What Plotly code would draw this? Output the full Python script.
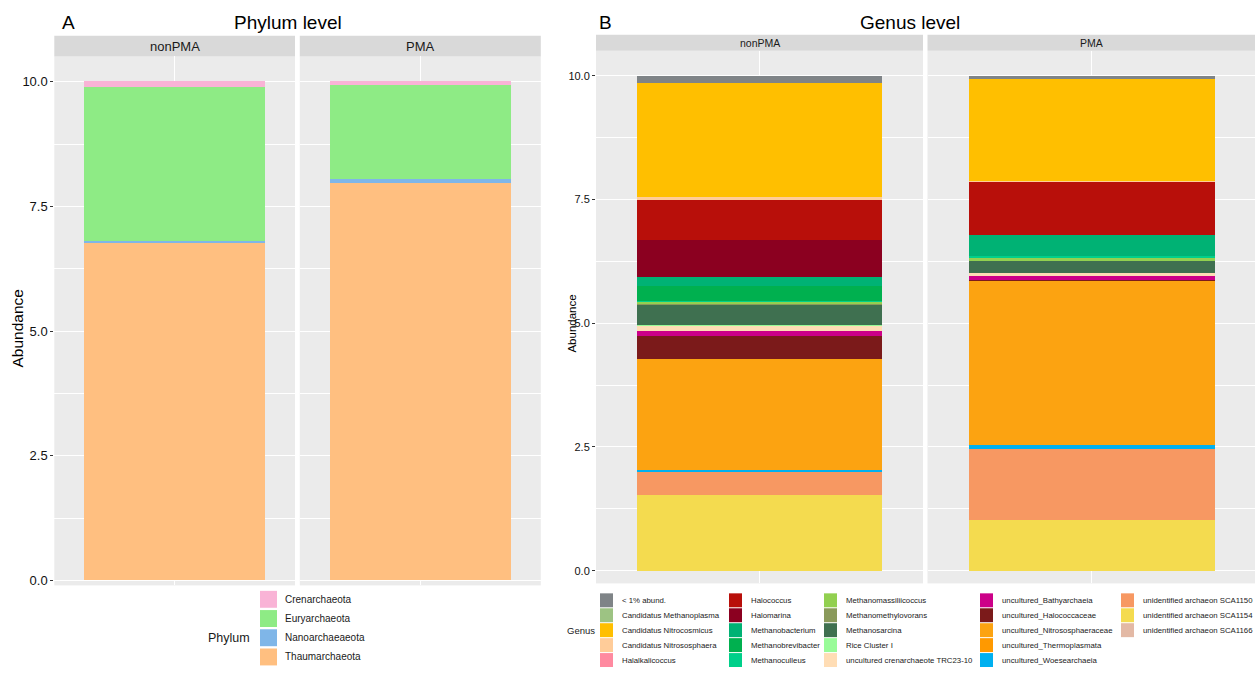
import plotly.graph_objects as go

# ---------------- data ----------------
samples = ["nonPMA", "PMA"]

phyla = ["Crenarchaeota", "Euryarchaeota", "Nanoarchaeaeota", "Thaumarchaeota"]
phylum_nonpma = [0.12, 3.09, 0.04, 6.75]
phylum_pma = [0.08, 1.88, 0.08, 7.96]
phylum_colors = ["#F9B3D6", "#8EEB85", "#7FB6E8", "#FFBF80"]

genera = [
    "< 1% abund.", "Candidatus Methanoplasma", "Candidatus Nitrocosmicus",
    "Candidatus Nitrososphaera", "Halalkalicoccus", "Halococcus", "Halomarina",
    "Methanobacterium", "Methanobrevibacter", "Methanoculleus",
    "Methanomassiliicoccus", "Methanomethylovorans", "Methanosarcina",
    "Rice Cluster I", "uncultured crenarchaeote TRC23-10",
    "uncultured_Bathyarchaeia", "uncultured_Halococcaceae",
    "uncultured_Nitrososphaeraceae", "uncultured_Thermoplasmata",
    "uncultured_Woesearchaeia", "unidentified archaeon SCA1150",
    "unidentified archaeon SCA1154", "unidentified archaeon SCA1166",
]
genus_nonpma = [0.14, 0.00, 2.30, 0.07, 0.00, 0.80, 0.76, 0.18, 0.29, 0.01,
                0.05, 0.01, 0.42, 0.02, 0.10, 0.10, 0.47, 2.23, 0.01, 0.03,
                0.47, 1.54, 0.00]
genus_pma = [0.07, 0.00, 2.05, 0.01, 0.00, 1.08, 0.00, 0.42, 0.00, 0.05,
             0.05, 0.00, 0.25, 0.00, 0.07, 0.07, 0.01, 3.32, 0.00, 0.08,
             1.44, 1.02, 0.01]
genus_colors = [
    "#7F8487", "#9DC383", "#FFBF00", "#FFCC99", "#FF8AA0", "#B80F0A", "#8B0020",
    "#00B274", "#00B04F", "#00D08A", "#92D050", "#8A9A5B", "#3F7050",
    "#98FB98", "#FFDDB5", "#CC0088", "#7B1A1A", "#FCA311", "#FF9900",
    "#00B0F0", "#F79862", "#F4DB4F", "#E3B9A5",
]

y_ticks = [0, 2.5, 5, 7.5, 10]

# ---------------- geometry helpers (pixel -> paper) ----------------
W, H = 1257, 673
FONT = "Liberation Sans"
TXT = "#1A1A1A"


def px(x):
    return x / W


def py(y):
    return 1 - y / H


fig = go.Figure()

# Stacked bars: ggplot puts the first level on top, so add traces in reverse
panels = [
    ("x", "y", phyla, phylum_nonpma, phylum_colors, samples[0]),
    ("x2", "y2", phyla, phylum_pma, phylum_colors, samples[1]),
    ("x3", "y3", genera, genus_nonpma, genus_colors, samples[0]),
    ("x4", "y4", genera, genus_pma, genus_colors, samples[1]),
]
for xa, ya, names, vals, cols, samp in panels:
    for name, v, c in reversed(list(zip(names, vals, cols))):
        fig.add_trace(go.Bar(
            x=[samp], y=[v], name=name, xaxis=xa, yaxis=ya,
            marker=dict(color=c, line=dict(width=0)),
            width=0.9, showlegend=False,
        ))

fig.update_layout(barmode="stack")

# ---------------- axes ----------------
left_y = [py(588), py(56.7)]
right_y = [py(586), py(51)]
x_domains = {
    "xaxis": [px(54.3), px(295)],
    "xaxis2": [px(299.8), px(540.8)],
    "xaxis3": [px(596), px(923)],
    "xaxis4": [px(927.5), px(1255)],
}
anchors = {"xaxis": "y", "xaxis2": "y2", "xaxis3": "y3", "xaxis4": "y4"}
for key, dom in x_domains.items():
    big = key in ("xaxis", "xaxis2")
    fig.update_layout({key: dict(
        domain=dom, anchor=anchors[key], type="category",
        range=[-0.6, 0.6], showticklabels=False, ticks="",
        showgrid=True, gridcolor="white", gridwidth=1.1 if big else 0.8,
        zeroline=False, showline=False, fixedrange=True,
    )})

grid_common = dict(
    tickvals=y_ticks, ticktext=[f"{v:.1f}" for v in y_ticks],
    showgrid=True, gridcolor="white", zeroline=False, showline=False,
    minor=dict(dtick=1.25, tick0=0, showgrid=True, gridcolor="white",
               gridwidth=0.5, ticks=""),
)
tick_common = dict(ticks="outside", ticklen=3, tickwidth=1, tickcolor="#333333")
fig.update_layout(
    yaxis=dict(domain=left_y, anchor="x", range=[-0.094, 10.505],
               gridwidth=1.1,
               tickfont=dict(family=FONT, size=13, color="#111111"),
               **grid_common, **tick_common),
    yaxis2=dict(domain=left_y, anchor="x2", matches="y", range=[-0.094, 10.505],
                showticklabels=False, ticks="", gridwidth=1.1, **grid_common),
    yaxis3=dict(domain=right_y, anchor="x3", range=[-0.255, 10.503],
                gridwidth=0.8,
                tickfont=dict(family=FONT, size=11, color="#111111"),
                **grid_common, **tick_common),
    yaxis4=dict(domain=right_y, anchor="x4", matches="y3", range=[-0.255, 10.503],
                showticklabels=False, ticks="", gridwidth=0.8, **grid_common),
)

shapes = []
annotations = []

# ---------------- y-axis titles ----------------
for x, y, fs in [(18, 330, 15.5), (572, 325, 11.5)]:
    annotations.append(dict(xref="paper", yref="paper", x=px(x), y=py(y),
                            text="Abundance", showarrow=False, textangle=-90,
                            xanchor="center", yanchor="middle",
                            font=dict(family=FONT, size=fs, color="black")))

# ---------------- facet strips ----------------
strips = [
    (54.3, 295, 36, 56.7, samples[0], 13),
    (299.8, 540.8, 36, 56.7, samples[1], 13),
    (596, 923, 35, 51, samples[0], 10.5),
    (927.5, 1255, 35, 51, samples[1], 10.5),
]
for x0, x1, y0, y1, label, fs in strips:
    shapes.append(dict(type="rect", xref="paper", yref="paper",
                       x0=px(x0), x1=px(x1), y0=py(y1), y1=py(y0),
                       fillcolor="#D9D9D9", line=dict(width=0), layer="below"))
    annotations.append(dict(xref="paper", yref="paper",
                            x=px((x0 + x1) / 2), y=py((y0 + y1) / 2),
                            text=label, showarrow=False,
                            xanchor="center", yanchor="middle",
                            font=dict(family=FONT, size=fs, color=TXT)))

# ---------------- titles and panel tags ----------------
for text, x, anchor in [("A", 60, "left"), ("B", 597, "left"),
                        ("Phylum level", 288, "center"),
                        ("Genus level", 910, "center")]:
    annotations.append(dict(xref="paper", yref="paper", x=px(x), y=py(23),
                            text=text, showarrow=False, xanchor=anchor,
                            yanchor="middle",
                            font=dict(family=FONT, size=19, color="black")))

# ---------------- legends ----------------
# Phylum legend: one column
leg_rows = [602, 621.3, 640.6, 659.9]
for name, col, yc in zip(phyla, phylum_colors, leg_rows):
    shapes.append(dict(type="rect", xref="paper", yref="paper",
                       x0=px(260), x1=px(277), y0=py(yc + 8.5), y1=py(yc - 8.5),
                       fillcolor=col, line=dict(width=0)))
    annotations.append(dict(xref="paper", yref="paper", x=px(283), y=py(yc),
                            text=name, showarrow=False, xanchor="left",
                            yanchor="middle",
                            font=dict(family=FONT, size=10, color=TXT)))
annotations.append(dict(xref="paper", yref="paper", x=px(252), y=py(641),
                        text="Phylum", showarrow=False, xanchor="right",
                        yanchor="middle",
                        font=dict(family=FONT, size=12.5, color=TXT)))

# Genus legend: filled column by column, five rows each
col_x = [600, 729, 824, 980, 1121]
row_y = [603, 618, 633, 648, 663]
for i, (name, col) in enumerate(zip(genera, genus_colors)):
    cx = col_x[i // 5]
    yc = row_y[i % 5]
    shapes.append(dict(type="rect", xref="paper", yref="paper",
                       x0=px(cx), x1=px(cx + 13), y0=py(yc + 7), y1=py(yc - 7),
                       fillcolor=col, line=dict(width=0)))
    annotations.append(dict(xref="paper", yref="paper", x=px(cx + 20), y=py(yc),
                            text=name, showarrow=False, xanchor="left",
                            yanchor="middle",
                            font=dict(family=FONT, size=7.8, color=TXT)))
annotations.append(dict(xref="paper", yref="paper", x=px(597), y=py(633),
                        text="Genus", showarrow=False, xanchor="right",
                        yanchor="middle",
                        font=dict(family=FONT, size=9.5, color=TXT)))

fig.update_layout(
    shapes=shapes, annotations=annotations,
    width=W, height=H, autosize=False,
    margin=dict(l=0, r=0, t=0, b=0),
    paper_bgcolor="white", plot_bgcolor="#EBEBEB",
    showlegend=False, bargap=0,
)

fig.write_html("out.html", config={"displayModeBar": False})
